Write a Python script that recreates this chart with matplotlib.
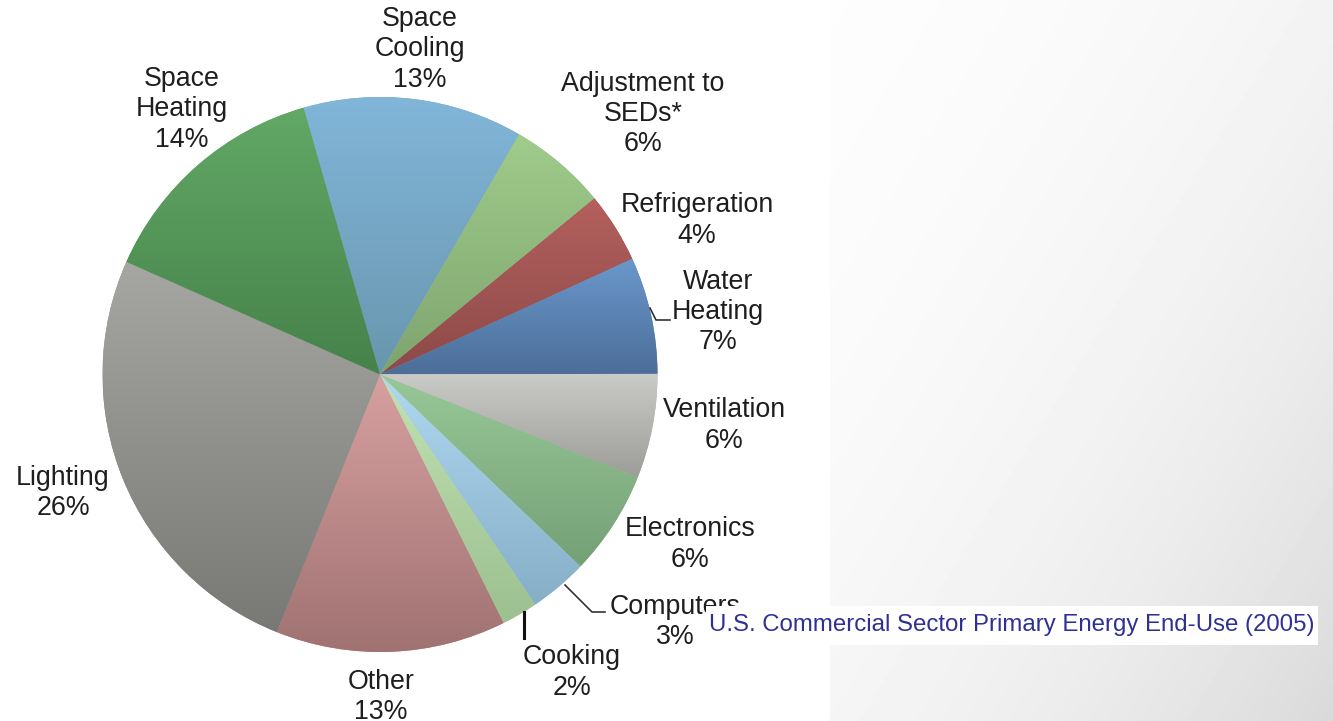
import numpy as np
import matplotlib
matplotlib.use('Agg')
import matplotlib.pyplot as plt
from matplotlib.patches import Rectangle
from matplotlib.colors import to_rgb

# ---------------- data ----------------
categories = ["Space\nCooling", "Adjustment to\nSEDs*", "Refrigeration", "Water\nHeating",
              "Ventilation", "Electronics", "Computers", "Cooking", "Other", "Lighting",
              "Space\nHeating"]
shares = [12.8, 5.7, 4.1, 6.8, 6.1, 6.1, 3.4, 2.1, 13.4, 25.6, 13.9]
title = "U.S. Commercial Sector Primary Energy End-Use (2005)"

# ---------------- style ----------------
top_colors = ["#82b6d9", "#a0cc8c", "#b4605e", "#6a98cc", "#cacac6", "#98c898",
              "#b0d8f0", "#c2e2b2", "#d8a0a0", "#a6a6a2", "#62a866"]
bottom_colors = ["#6896ae", "#7ea46e", "#8c4a48", "#4c6e98", "#9c9c98", "#74a076",
                 "#86aec6", "#9cc090", "#a07272", "#787874", "#46824a"]

W, H = 1333, 721
plt.rcParams['font.family'] = ['Liberation Sans', 'DejaVu Sans']

fig = plt.figure(figsize=(W / 100, H / 100), dpi=100)

# background gradient
bg = fig.add_axes([0, 0, 1, 1], zorder=0)
yy, xx = np.mgrid[0:H, 0:W]
u = xx / W
v = yy / H
dark = 38 * np.clip(0.75 * u + 0.25 * v, 0, 1) ** 4
bg.imshow((255 - dark) / 255, cmap='gray', vmin=0, vmax=1, extent=(0, W, 0, H),
          origin='upper', aspect='auto', interpolation='bilinear')
bg.add_patch(Rectangle((10, 0), 820, H, color='white', lw=0))
bg.set_xlim(0, W)
bg.set_ylim(0, H)
bg.axis('off')

ax = fig.add_axes([0, 0, 1, 1], zorder=1)
ax.patch.set_alpha(0)


def py(y):
    return H - y


cx, cy, R = 380, py(374.5), 277.5
wedges, _ = ax.pie(shares, startangle=106, counterclock=False, center=(cx, cy), radius=R,
                   wedgeprops=dict(linewidth=0))

g = np.linspace(0, 1, 256)[:, None, None]
for w, ct, cb in zip(wedges, top_colors, bottom_colors):
    ext = w.get_path().get_extents()
    c0 = np.array(to_rgb(ct))[None, None, :]
    c1 = np.array(to_rgb(cb))[None, None, :]
    arr = c0 * (1 - g) + c1 * g
    w.set_facecolor(tuple((c0 * 0.5 + c1 * 0.5).ravel()))
    im = ax.imshow(arr, extent=(ext.x0, ext.x1, ext.y0, ext.y1), origin='upper',
                   aspect='auto', interpolation='bilinear', zorder=2)
    im.set_clip_path(w)

# labels
label_pos = [(420, 49.5), (643, 114), (697, 220.5), (718, 312), (724, 425.5),
             (690, 544.5), (675, 622), (572, 672.5), (381, 697), (63, 493), (182, 109.5)]
for name, s, (x, y) in zip(categories, shares, label_pos):
    ax.text(x, py(y), f"{name}\n{round(s)}%", ha='center', va='center', fontsize=19.3,
            color='#1e1e1e', linespacing=1.22, zorder=5)

# leader lines
leaders = [
    [(650, 308), (656, 320), (670, 320)],
    [(565, 585), (592, 612), (605, 612)],
]
for pts in leaders:
    xs = [p[0] for p in pts]
    ys = [py(p[1]) for p in pts]
    ax.plot(xs, ys, color='#333333', lw=1.2, zorder=4)
ax.plot([524, 524], [py(612), py(638)], color='#111111', lw=2.2, zorder=4)

# title box
ax.add_patch(Rectangle((706, py(645)), 612, 39, facecolor='white', edgecolor='none', zorder=6))
ax.text(1012, py(625), title, ha='center', va='center', fontsize=17.3, color='#2e3192', zorder=7)

ax.set_xlim(0, W)
ax.set_ylim(0, H)
ax.set_aspect('auto')
ax.axis('off')

fig.savefig('out.png', dpi=100)
